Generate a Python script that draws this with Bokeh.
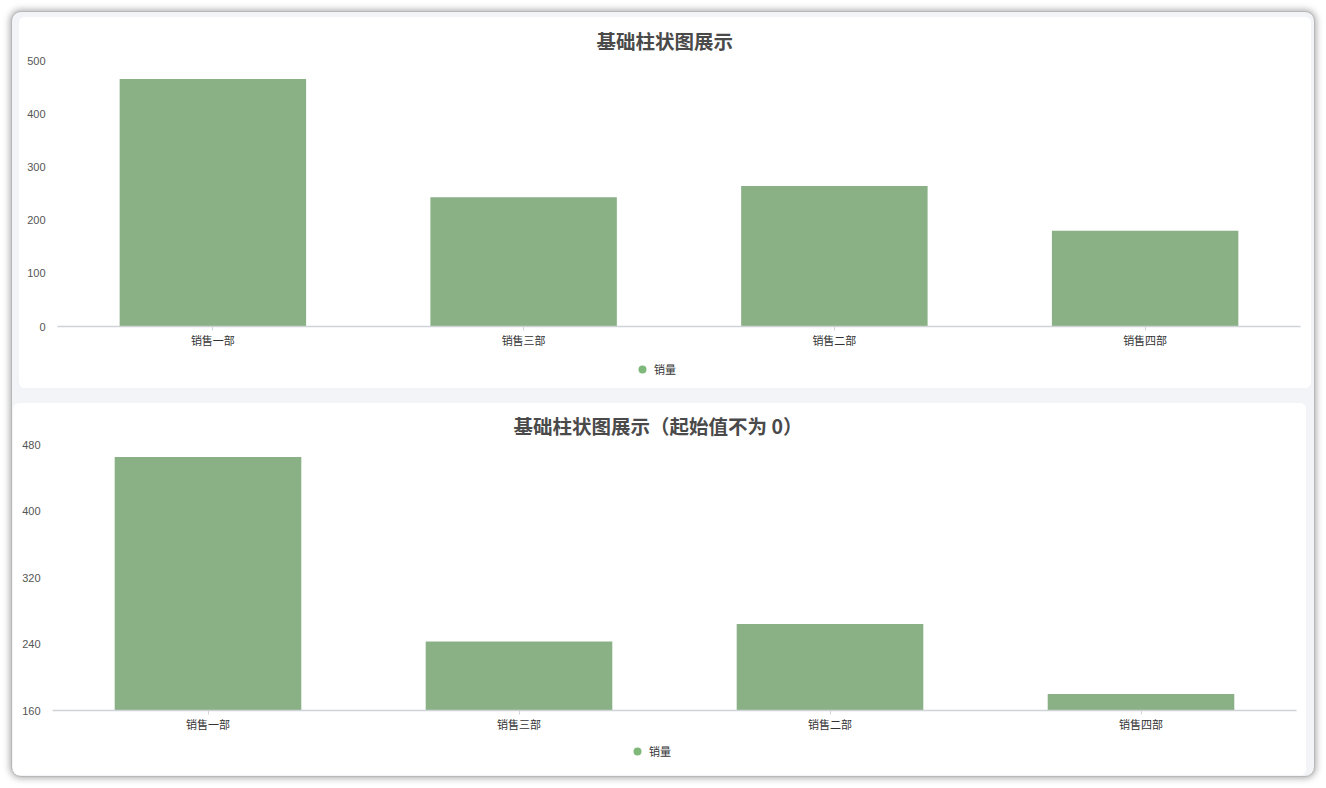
from bokeh.plotting import figure
from bokeh.models import (Range1d, SingleIntervalTicker, Legend, LegendItem,
                          ColumnDataSource)
from bokeh.layouts import column
from bokeh.embed import file_html
from bokeh.resources import INLINE

# ---- data ----
categories = ["销售一部", "销售三部", "销售二部", "销售四部"]
sales = [465, 243, 264, 180]
series_name = "销量"
title_top = "基础柱状图展示"
title_bottom = "基础柱状图展示（起始值不为 0）"
top_y_range = (0, 500)
top_tick_step = 100
bottom_y_range = (160, 480)
bottom_tick_step = 80

CJK = "Noto Sans CJK SC"
BAR = "#89b185"
DOT = "#7fb87b"
NAN = float("nan")


def make_card(title, yr, step, w, h_chart, h_leg, borders, title_offset,
              title_standoff, legend_loc, margin):
    src = ColumnDataSource(dict(cat=categories, val=sales,
                                base=[yr[0]] * len(sales)))
    bt, br, bb, bl = borders
    p = figure(x_range=categories, y_range=Range1d(*yr), width=w,
               height=h_chart, output_backend="svg", toolbar_location=None,
               min_border_top=bt, min_border_right=br, min_border_bottom=bb,
               min_border_left=bl,
               background_fill_color="white", border_fill_color="white")
    p.vbar(x="cat", top="val", bottom="base", width=0.6, source=src,
           fill_color=BAR, line_color=None)

    p.title.text = title
    p.title.text_font = CJK
    p.title.text_font_size = "19.5px"
    p.title.text_font_style = "bold"
    p.title.text_color = "#4a4a4a"
    p.title.align = "left"
    p.title.offset = title_offset
    p.title.standoff = title_standoff

    p.outline_line_color = None
    p.xgrid.grid_line_color = None
    p.ygrid.grid_line_color = None

    p.yaxis.ticker = SingleIntervalTicker(interval=step, num_minor_ticks=0)
    p.yaxis.axis_line_color = None
    p.yaxis.major_tick_line_color = None
    p.yaxis.minor_tick_line_color = None
    p.yaxis.major_label_text_font = "Liberation Sans"
    p.yaxis.major_label_text_font_size = "11px"
    p.yaxis.major_label_text_color = "#555555"
    p.yaxis.major_label_standoff = 6

    p.xaxis.axis_line_color = "#cfd2d6"
    p.xaxis.axis_line_width = 1.5
    p.xaxis.major_tick_line_color = "#cfd2d6"
    p.xaxis.major_tick_in = 0
    p.xaxis.major_tick_out = 4
    p.xaxis.minor_tick_line_color = None
    p.xaxis.major_label_text_font = CJK
    p.xaxis.major_label_text_font_size = "11px"
    p.xaxis.major_label_text_color = "#333333"
    p.xaxis.major_label_standoff = 1

    # legend strip under the chart
    lf = figure(width=w, height=h_leg, x_range=Range1d(0, 1),
                y_range=Range1d(0, 1), x_axis_type=None, y_axis_type=None,
                output_backend="svg", toolbar_location=None, title=None,
                min_border=0, outline_line_color=None,
                background_fill_color="white", border_fill_color="white")
    lf.xgrid.grid_line_color = None
    lf.ygrid.grid_line_color = None
    dummy = lf.scatter(x=[NAN], y=[NAN], marker="circle", size=8,
                       fill_color=DOT, line_color=None)
    legend = Legend(items=[LegendItem(label=series_name, renderers=[dummy],
                                      index=0)],
                    location=legend_loc, orientation="horizontal",
                    border_line_color=None, background_fill_alpha=0,
                    label_text_font=CJK, label_text_font_size="11px",
                    label_text_color="#333333", glyph_width=20,
                    glyph_height=20, label_standoff=2, padding=6, margin=0)
    lf.add_layout(legend, "center")

    card = column(p, lf, spacing=0, margin=margin,
                  styles={"background-color": "white",
                          "border-radius": "6px", "overflow": "hidden"})
    return card


c1 = make_card(title_top, top_y_range, top_tick_step, 1292, 335, 36,
               (43, 11, 26, 38), 539, 12, (575, 9), (5, 3, 0, 7))
c2 = make_card(title_bottom, bottom_y_range, bottom_tick_step, 1293, 333, 39,
               (40, 10, 26, 39), 461, 10, (575, 14), (15, 8, 1, 1))

layout = column(c1, c2, spacing=0, margin=(11, 0, 0, 11),
                styles={"background-color": "#f3f4f8",
                        "border-radius": "10px",
                        "box-shadow": "0 0 7px 1px rgba(0,0,0,0.35)",
                        "border": "1px solid #b8b8b8"})

with open("out.html", "w") as f:
    f.write(file_html(layout, INLINE))
